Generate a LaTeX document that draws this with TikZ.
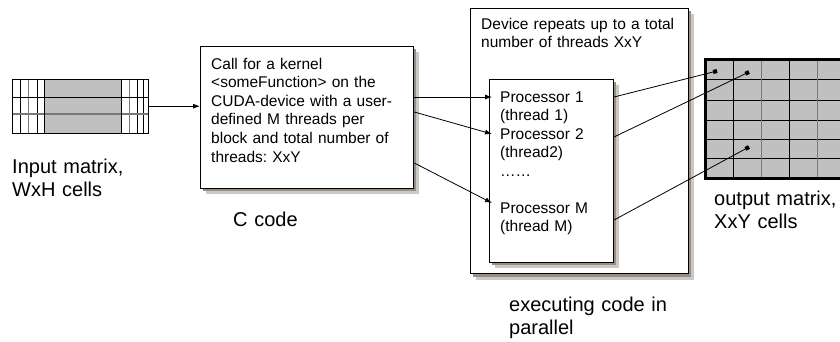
\documentclass[tikz,border=0pt]{standalone}
\usepackage{fontspec}
\setmainfont{Liberation Sans}
\frenchspacing
\usetikzlibrary{arrows.meta,calc}
\definecolor{cellgray}{RGB}{192,192,192}
\definecolor{linegray}{RGB}{120,120,120}
\definecolor{shadowdark}{RGB}{150,143,135}
\definecolor{shadowlight}{RGB}{205,200,194}
\begin{document}
\begin{tikzpicture}[x=1pt,y=-1pt,
  smalltext/.style={font=\fontsize{15.5}{18.6}\selectfont, anchor=base west, inner sep=0pt, align=left},
  bigtext/.style={font=\fontsize{20}{23.5}\selectfont, anchor=base west, inner sep=0pt, align=left, text width=180pt},
  whitebox/.style={draw=black, fill=white, line width=1pt, anchor=north west, inner sep=0pt},
  conn/.style={line width=0.8pt},
  arr/.style={conn, -{Latex[length=7pt,width=5pt]}},
  dotend/.style={conn, -{Square[length=4pt,width=4pt]}}
]
\useasboundingbox (0,0) rectangle (840,341);
\clip (0,0) rectangle (840,341);
\fill[white] (0,0) rectangle (840,341);

% ---------- input matrix ----------
\node[anchor=north west, minimum width=136pt, minimum height=54pt, inner sep=0pt] (inmat) at (12,79) {};
\fill[cellgray] (44,79) rectangle (121,133);
\foreach \x/\c in {20/black,28/linegray,37/black,129/linegray,137/black,143/black}
  \draw[\c, line width=0.8pt] (\x,79) -- (\x,133);
\draw[black, line width=0.8pt] (12,97) -- (148,97);
\draw[linegray, line width=1.2pt] (12,114) -- (148,114);
\draw[black, line width=0.8pt] (44,79) -- (44,133) (121,79) -- (121,133);
\draw[black, line width=1pt] (inmat.north west) rectangle (inmat.south east);
\node[bigtext] (inlabel) at (12,173) {Input matrix,\\WxH cells};

% ---------- call box ----------
\fill[shadowlight] (206,52) rectangle (419,194);
\fill[shadowdark] (203,49) rectangle (416,191);
\node[whitebox, line width=1.3pt, minimum width=213pt, minimum height=142pt] (callbox) at (200,46) {};
\node[smalltext, text width=200pt] (calltext) at (211,69)
  {Call for a kernel\\\textless someFunction\textgreater{} on the\\CUDA-device with a user-\\defined M threads per\\block and total number of\\threads: XxY};
\node[bigtext] (clabel) at (233,226) {C code};

% ---------- device box ----------
\fill[shadowlight] (476,14) rectangle (694,280);
\fill[shadowdark] (473,11) rectangle (691,277);
\node[whitebox, minimum width=218pt, minimum height=265pt] (device) at (470,8) {};
\node[smalltext, text width=205pt] (devtext) at (481,29)
  {Device repeats up to a total\\number of threads XxY};

% ---------- processor box ----------
\fill[shadowlight] (495,85) rectangle (619,268);
\fill[shadowdark] (492,82) rectangle (616,265);
\node[whitebox, minimum width=124pt, minimum height=183pt] (proc) at (489,79) {};
\node[smalltext, text width=110pt, font=\fontsize{15.5}{18.5}\selectfont] (proctext) at (500,102)
  {Processor 1\\(thread 1)\\Processor 2\\(thread2)\\……\\\mbox{}\\Processor M\\(thread M)};
\node[bigtext] (execlabel) at (509,311) {executing code in\\parallel};

% ---------- output matrix ----------
\node[anchor=north west, minimum width=150pt, minimum height=119pt, inner sep=0pt] (outmat) at (705,59) {};
\fill[cellgray] (705,59) rectangle (855,178);
\foreach \y in {79,100,120,139,158}
  \draw[black, line width=0.8pt] (705,\y) -- (855,\y);
\foreach \x/\c in {733/black,761/linegray,789/black,817/linegray,845/black}
  \draw[\c, line width=1pt] (\x,59) -- (\x,178);
\draw[black, line width=3pt] (outmat.north west) rectangle (outmat.south east);
\node[bigtext] (outlabel) at (714,205) {output matrix,\\XxY cells};

% ---------- connectors ----------
\draw[arr] (inmat.east) -- (inmat.east -| callbox.west);

\coordinate (a1s) at ($(callbox.north east)+(0,51)$);
\coordinate (a2s) at ($(callbox.north east)+(0,66)$);
\coordinate (a3s) at ($(callbox.north east)+(0,117)$);
\coordinate (a1e) at ($(proc.north west)+(3,18)$);
\coordinate (a2e) at ($(proc.north west)+(3,55)$);
\coordinate (a3e) at ($(proc.north west)+(3,124)$);
\draw[arr] (a1s) -- (a1e);
\draw[arr] (a2s) -- (a2e);
\draw[arr] (a3s) -- (a3e);

\coordinate (b1s) at ($(proc.north east)+(0,18)$);
\coordinate (b2s) at ($(proc.north east)+(0,58)$);
\coordinate (b3s) at ($(proc.north east)+(0,141)$);
\coordinate (b1e) at ($(outmat.north west)+(12,12)$);
\coordinate (b2e) at ($(outmat.north west)+(44,13)$);
\coordinate (b3e) at ($(outmat.north west)+(44,88)$);
\draw[dotend] (b1s) -- (b1e);
\draw[dotend] (b2s) -- (b2e);
\draw[dotend] (b3s) -- (b3e);
\end{tikzpicture}
\end{document}
